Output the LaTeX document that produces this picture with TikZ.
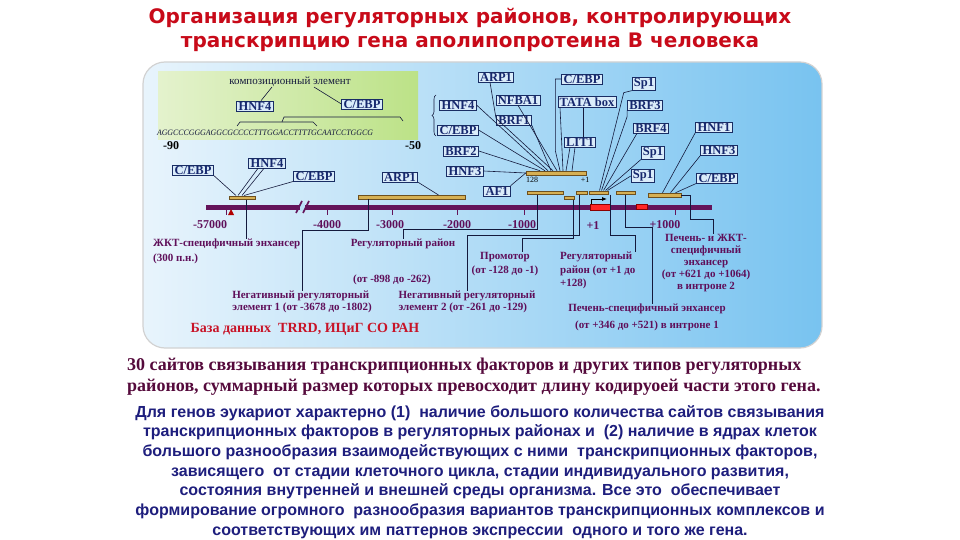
\documentclass[tikz,border=0pt]{standalone}
\usepackage{fontspec}
\setmainfont{Liberation Serif}
\newfontfamily\headfont{Liberation Sans}
\newfontfamily\titlefont{DejaVu Sans}
\usetikzlibrary{positioning,calc,arrows.meta,decorations.pathreplacing}

\definecolor{titlered}{RGB}{200,10,25}
\definecolor{boxfill}{RGB}{218,236,250}
\definecolor{boxline}{RGB}{25,45,100}
\definecolor{boxtext}{RGB}{22,40,110}
\definecolor{barfill}{RGB}{214,176,84}
\definecolor{barline}{RGB}{110,80,30}
\definecolor{chrom}{RGB}{100,20,90}
\definecolor{leadcol}{RGB}{20,25,60}
\definecolor{notecol}{RGB}{95,15,90}
\definecolor{sumcol}{RGB}{85,10,60}
\definecolor{parcol}{RGB}{30,30,125}
\definecolor{dbred}{RGB}{200,20,40}
\definecolor{panelL}{RGB}{232,244,252}
\definecolor{panelR}{RGB}{120,195,240}
\definecolor{greenL}{RGB}{228,242,205}
\definecolor{greenR}{RGB}{188,226,135}

\begin{document}
\begin{tikzpicture}[
  x=1pt, y=-1pt,
  title/.style={text=titlered, font=\titlefont\bfseries\fontsize{20}{22}\selectfont, inner sep=0pt},
  tf/.style={draw=boxline, fill=boxfill, text=boxtext, line width=0.8pt,
    inner xsep=1.8pt, inner ysep=0.8pt, font=\bfseries\fontsize{12.5}{13}\selectfont},
  site/.style={draw=barline, fill=barfill, line width=0.5pt, minimum height=3.5pt, inner sep=0pt},
  redsite/.style={draw=red!55!black, fill=red!85, line width=0.5pt, minimum height=5.5pt, inner sep=0pt},
  lead/.style={draw=leadcol, line width=0.6pt},
  note/.style={text=notecol, font=\bfseries\fontsize{11}{12}\selectfont, inner sep=0pt},
  coordlab/.style={text=notecol, font=\bfseries\fontsize{12}{13}\selectfont, inner sep=0pt},
  small/.style={text=black, font=\fontsize{8}{9}\selectfont, inner sep=0pt}
]
\useasboundingbox (0,0) rectangle (960,540);
\fill[white] (0,0) rectangle (960,540);

% title
\node[title] (t1) at (470,18) {Организация регуляторных районов, контролирующих};
\node[title] (t2) at (470,42) {транскрипцию гена аполипопротеина В человека};

% panel and composite element
\shade[left color=panelL, right color=panelR, rounded corners=22pt] (143,62) rectangle (822,348);
\draw[gray!35, line width=1.2pt, rounded corners=22pt] (143,62) rectangle (822,348);
\shade[left color=greenL, right color=greenR] (158,72) rectangle (418,140);

\node[small, text=leadcol, font=\fontsize{11}{12}\selectfont] (complab) at (290,82) {композиционный элемент};
\node[tf] (hnf4c) at (255,106) {HNF4};
\node[tf] (cebpc) at (362,104) {C/EBP};
\node[inner sep=0pt, text=leadcol] (seq) at (265,133)
  {\resizebox{216pt}{5.5pt}{\itshape AGGCCCGGGAGGCGCCCCTTTGGACCTTTTGCAATCCTGGCG}};
\node[coordlab, text=black] (m90) at (171,146) {-90};
\node[coordlab, text=black] (m50) at (413,146) {-50};
\draw[lead] ([xshift=24pt]complab.south) -- (cebpc.west);
\draw[lead] ([xshift=6pt]hnf4c.north) -- ([xshift=-18pt]complab.south);
\draw[lead] (237,126) -- (240,122) -- (313,122) -- (317,126);
\draw[lead] (282,122) -- (284,117) -- (400,117) -- (403,121);

% chromosome
\draw[chrom, line width=5pt] (206,207) -- (712,207);
\fill[panelL!60!panelR] (300,203) rectangle (305,211);
\draw[chrom, line width=1.6pt] (296,213) -- (302,201);
\draw[chrom, line width=1.6pt] (303,213) -- (309,201);
\fill[red!70!black] (228,215) -- (234,215) -- (231,209) -- cycle;
\foreach \x/\lx/\lab in {226/210/-57000, 327/327/-4000, 392/390/-3000,
    457/457/-2000, 524/522/-1000, 675/665/+1000}{
  \draw[chrom, line width=0.8pt] (\x,209) -- (\x,215);
  \node[coordlab] (tk\x) at (\lx,225) {\lab};
}
\node[coordlab] (tkplus) at (593,226) {+1};

% binding sites
\node[site, minimum width=26pt] (bA) at (242,197.5) {};
\node[site, minimum width=107pt] (bB) at (411.5,197) {};
\node[site, minimum width=60pt, minimum height=4pt] (bP) at (556,173) {};
\node[site, minimum width=36pt] (bC) at (545,192.5) {};
\node[site, minimum width=10pt] (bD) at (569,197.5) {};
\node[site, minimum width=11pt] (bE) at (581.5,192.5) {};
\node[site, minimum width=19pt] (bF) at (598.5,192.5) {};
\node[site, minimum width=19pt] (bG) at (625.5,192.5) {};
\node[site, minimum width=33pt, minimum height=4pt] (bH) at (664.5,195) {};
\node[redsite, minimum width=20pt] (rA) at (600,207) {};
\node[redsite, minimum width=11pt] (rB) at (641.5,206.5) {};
\node[small] (n128) at (532,180) {128};
\node[small] (nplus) at (585,180) {+1};
\draw[-{Latex[length=5pt,width=4pt]}, line width=0.8pt] (591,204) |- (607,199);

% factors near -57000 and -3000
\node[tf] (cebpl) at (193,170) {C/EBP};
\node[tf] (hnf4l) at (267,163) {HNF4};
\node[tf] (cebpm) at (314,176) {C/EBP};
\node[tf] (arp1l) at (400,177) {ARP1};
\draw[lead] (cebpl.south east) -- ([xshift=-6pt]bA.north);
\draw[lead] ([xshift=-9pt]hnf4l.south) -- ([xshift=-4pt]bA.north);
\draw[lead] ([xshift=-3pt]hnf4l.south) -- (bA.north);
\draw[lead] (cebpm.south west) -- ([xshift=2pt]bA.north);
\draw[lead] (arp1l.south east) -- ([xshift=27pt]bB.north);

% factors over the promoter
\node[tf] (arp1u) at (496,77) {ARP1};
\node[tf] (nfba1) at (518,100) {NFBA1};
\node[tf] (hnf4u) at (458,105) {HNF4};
\node[tf] (brf1) at (514,120) {BRF1};
\node[tf] (cebpu) at (458,130) {C/EBP};
\node[tf] (brf2) at (461,151) {BRF2};
\node[tf] (hnf3u) at (465,171) {HNF3};
\node[tf] (af1) at (497,191) {AF1};
\node[tf] (cebpt) at (582,79) {C/EBP};
\node[tf] (tata) at (587,102) {TATA box};
\node[tf] (lit1) at (580,142) {LIT1};
\draw[lead, decorate, decoration={brace, amplitude=4pt}] (436,136) -- (436,95);
\draw[lead] (hnf4u.east) -- ([xshift=-8pt]bP.north);
\draw[lead] (cebpu.east) -- ([xshift=-11pt]bP.north);
\draw[lead] (brf2.east) -- ([xshift=-16pt]bP.north);
\draw[lead] (hnf3u.east) -- (bP.west);
\draw[lead] (af1.north east) -- (bP.west);
\draw[lead] ([xshift=-6pt]arp1u.south) -- ++(6,36) -- ([xshift=-3pt]bP.north);
\draw[lead] (nfba1.south) -- ([xshift=1pt]bP.north);
\draw[lead] (brf1.south east) -- ([xshift=-5pt]bP.north);
\draw[lead] (cebpt.west) -- ++(-6,0) -- ++(0,72) -- ([xshift=4pt]bP.north);
\draw[lead] ([xshift=-27pt]tata.south) -- ([xshift=7pt]bP.north);
\draw[lead] ([xshift=-4pt]tata.south) -- ([xshift=3pt]lit1.north);
\draw[lead] ([xshift=-10pt]lit1.south) -- ([xshift=10pt]bP.north);
\draw[lead] ([xshift=-5pt]lit1.south) -- ([xshift=16pt]bP.north);

% factors near +1
\node[tf] (sp1a) at (644,84) {Sp1};
\node[tf] (brf3) at (645,105) {BRF3};
\node[tf] (brf4) at (651,128) {BRF4};
\node[tf] (sp1b) at (653,153) {Sp1};
\node[tf] (sp1c) at (643,176) {Sp1};
\node[tf] (hnf1) at (714,127) {HNF1};
\node[tf] (hnf3r) at (719,150) {HNF3};
\node[tf] (cebpr) at (717,178) {C/EBP};
\draw[lead] (sp1a.south west) -- ++(-8,2) -- ([xshift=1pt]bF.north);
\draw[lead] (brf3.south west) -- ++(0,6) -- ([xshift=3pt]bF.north);
\draw[lead] ([xshift=-14pt]brf4.south) -- ([xshift=5pt]bF.north);
\draw[lead] (sp1b.south west) -- ([xshift=7pt]bF.north);
\draw[lead] (sp1c.west) -- ([xshift=9pt]bF.north);
\draw[lead] (hnf1.south west) -- ([xshift=-2pt]bH.north);
\draw[lead] (hnf3r.south west) -- ([xshift=6pt]bH.north);
\draw[lead] (cebpr.south west) -- ([xshift=11pt]bH.north);

% regions below the axis
\node[note, align=left, anchor=north west] (gutenh) at (153,239)
  {ЖКТ-специфичный энхансер\\[3pt](300 п.н.)};
\node[note, align=left, anchor=north] (neg1) at (302,291)
  {Негативный регуляторный\\элемент 1 (от -3678 до -1802)};
\node[note, anchor=north] (reg1a) at (403,239) {Регуляторный район};
\node[note] (reg1b) at (392,280) {(от -898 до -262)};
\node[note, align=left, anchor=north] (neg2) at (467,291)
  {Негативный регуляторный\\элемент 2 (от -261 до -129)};
\node[note, align=center, anchor=north] (prom) at (505,252)
  {Промотор\\[2pt](от -128 до -1)};
\node[note, align=left, anchor=north west] (reg2) at (560,252)
  {Регуляторный\\[1.5pt]район (от +1 до\\[1.5pt]+128)};
\node[note, align=center, anchor=north] (liv1) at (647,304)
  {Печень-специфичный энхансер\\[5pt](от +346 до +521) в интроне 1};
\node[note, align=center, anchor=north] (liv2) at (706,234)
  {Печень- и ЖКТ-\\специфичный\\энхансер\\(от +621 до +1064)\\в интроне 2};
\node[text=dbred, font=\bfseries\fontsize{14}{15}\selectfont, inner sep=0pt] (base) at (305,329)
  {База данных\ \ TRRD, ИЦиГ СО РАН};

\draw[lead] ([xshift=4pt]bA.south) -- ([xshift=4pt]bA.south |- gutenh.north);
\draw[lead] ([xshift=-43.5pt]bB.south) -- ++(0,31) -| (neg1.north);
\draw[lead] ([xshift=-8pt]bC.south) -- ++(0,35) -| (reg1a.north);
\draw[lead] ([xshift=-2.5pt]bE.south) -- ++(0,41) -| (neg2.north);
\draw[lead] ([xshift=4pt]bD.south) -- ++(0,38.5) -| ([xshift=17pt]prom.north);
\draw[lead] ([xshift=11.5pt]bF.south) -- ++(0,41) -| ([xshift=75pt]reg2.north west);
\draw[lead] (bG.south) -- ++(0,33) -| ([xshift=5pt]liv1.north);
\draw[lead] (bH.east) -- ++(9,0) -- ++(0,24) -| ([xshift=7pt]liv2.north);

% text below the panel
\node[text=sumcol, font=\bfseries\fontsize{18}{21}\selectfont, align=left, anchor=west, inner sep=0pt] (summary) at (127,376.5)
  {30 сайтов связывания транскрипционных факторов и других типов регуляторных\\
   районов, суммарный размер которых превосходит длину кодируоей части этого гена.};
\node[text=parcol, font=\headfont\bfseries\fontsize{16}{19.7}\selectfont, align=center, inner sep=0pt] (para) at (480,472)
  {Для генов эукариот характерно (1)\ \ наличие большого количества сайтов связывания\\
   транскрипционных факторов в регуляторных районах и\ \ (2) наличие в ядрах клеток\\
   большого разнообразия взаимодействующих с ними\ \ транскрипционных факторов,\\
   зависящего\ \ от стадии клеточного цикла, стадии индивидуального развития,\\
   состояния внутренней и внешней среды организма. Все это\ \ обеспечивает\\
   формирование огромного\ \ разнообразия вариантов транскрипционных комплексов и\\
   соответствующих им паттернов экспрессии\ \ одного и того же гена.};
\end{tikzpicture}
\end{document}
